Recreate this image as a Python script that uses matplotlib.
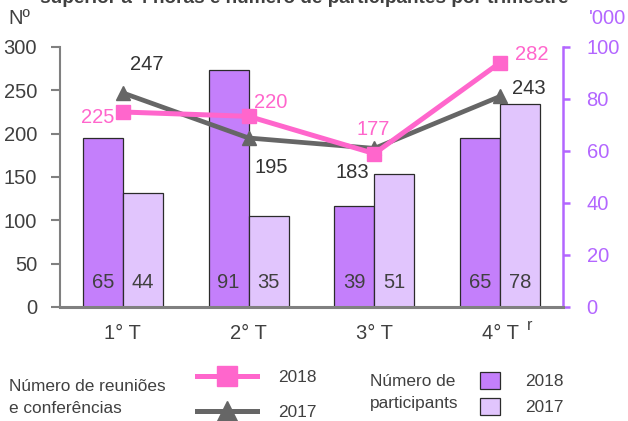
import matplotlib
matplotlib.use("Agg")
import matplotlib.pyplot as plt
import numpy as np
from matplotlib.lines import Line2D
from matplotlib.patches import Patch

# ---- data ----
categories = ['1° T', '2° T', '3° T', '4° T']
meetings_2018 = [225, 220, 177, 282]
meetings_2017 = [247, 195, 183, 243]
participants_2018 = [65, 91, 39, 65]
participants_2017 = [44, 35, 51, 78]
left_ticks = [0, 50, 100, 150, 200, 250, 300]
right_ticks = [0, 20, 40, 60, 80, 100]

# ---- style ----
FONT = ['Liberation Sans Narrow', 'Liberation Sans', 'DejaVu Sans']
plt.rcParams['font.family'] = FONT
DARK = '#404040'
PINK = '#FF66CC'
GREY = '#666666'
PURPLE = '#B366FF'
BAR18 = '#C47FFB'
BAR17 = '#E1C5FD'
AXGREY = '#808080'
FS = 14.5
LFS = 12.4

W, H = 628, 421
fig = plt.figure(figsize=(W / 100, H / 100), dpi=100)
ax = fig.add_axes([60 / W, 1 - 307 / H, (563 - 60) / W, (307 - 47) / H])  # bars, right scale
ax2 = ax.twinx()  # lines, left scale

x = np.arange(len(categories))
bw = 0.318
ax.bar(x - bw / 2, participants_2018, bw, color=BAR18, edgecolor='#2b2b2b', linewidth=0.9, zorder=2)
ax.bar(x + bw / 2, participants_2017, bw, color=BAR17, edgecolor='#2b2b2b', linewidth=0.9, zorder=2)
ax.set_xlim(-0.5, 3.5)
ax.set_ylim(0, 100)
ax.set_yticks(right_ticks)
ax.yaxis.tick_right()
ax.tick_params(axis='y', colors=PURPLE, labelcolor=PURPLE, labelsize=FS, length=5, width=1.8, pad=12)
ax.set_xticks(x)
ax.set_xticklabels(categories)
ax.tick_params(axis='x', length=0, labelsize=FS, labelcolor=DARK, pad=12)

for rect_x, v in zip(x - bw / 2, participants_2018):
    ax.annotate(str(v), xy=(rect_x, 0), xytext=(0, 18), textcoords='offset points',
                ha='center', va='center', fontsize=FS, color=DARK)
for rect_x, v in zip(x + bw / 2, participants_2017):
    ax.annotate(str(v), xy=(rect_x, 0), xytext=(0, 18), textcoords='offset points',
                ha='center', va='center', fontsize=FS, color=DARK)

ax2.plot(x, meetings_2017, color=GREY, lw=3.4, marker='^', markersize=10, zorder=3, solid_capstyle='butt')
ax2.plot(x, meetings_2018, color=PINK, lw=3.6, marker='s', markersize=10, zorder=4, solid_capstyle='butt')
ax2.set_ylim(0, 300)
ax2.set_yticks(left_ticks)
ax2.yaxis.tick_left()
ax2.tick_params(axis='y', colors=AXGREY, labelcolor=DARK, labelsize=FS, length=6.5, width=1.5, pad=10)

off18 = [(-18, -4.3), (15.8, 10.1), (-1.2, 17), (23, 5.5)]
off17 = [(17.3, 20.2), (16.6, -20.9), (-15.6, -17), (20.9, 6)]
for xi, v, o in zip(x, meetings_2018, off18):
    ax2.annotate(str(v), xy=(xi, v), xytext=o, textcoords='offset points',
                 ha='center', va='center', fontsize=FS, color=PINK, zorder=6)
for xi, v, o in zip(x, meetings_2017, off17):
    ax2.annotate(str(v), xy=(xi, v), xytext=o, textcoords='offset points',
                 ha='center', va='center', fontsize=FS, color='#333333', zorder=6)

ax.annotate('r', xy=(3, 0), xycoords=('data', 'axes fraction'), xytext=(21, -13),
            textcoords='offset points', ha='center', va='center', fontsize=11.5, color=DARK)

for a in (ax, ax2):
    a.patch.set_visible(False)
    for s in a.spines.values():
        s.set_visible(False)
ax2.spines['left'].set_visible(True)
ax2.spines['left'].set_color(AXGREY)
ax2.spines['left'].set_linewidth(1.5)
ax.spines['right'].set_visible(True)
ax.spines['right'].set_color(PURPLE)
ax.spines['right'].set_linewidth(1.8)
ax2.spines['bottom'].set_visible(True)
ax2.spines['bottom'].set_color(AXGREY)
ax2.spines['bottom'].set_linewidth(2.2)

# units and title
fig.text(8 / W, 1 - 19 / H, 'Nº', fontsize=FS, color=DARK, ha='left', va='center')
fig.text(608 / W, 1 - 19 / H, "'000", fontsize=FS, color=PURPLE, ha='center', va='center')
fig.text(304 / W, 1 - 3 / H, 'superior a 4 horas e número de participantes por trimestre',
         fontsize=13.7, fontweight='bold', color=DARK, ha='center', va='baseline')

# legends
fig.text(9 / W, 1 - 391 / H, 'Número de reuniões', fontsize=LFS, color=DARK, ha='left', va='baseline')
fig.text(9 / W, 1 - 413 / H, 'e conferências', fontsize=LFS, color=DARK, ha='left', va='baseline')
fig.text(370 / W, 1 - 386 / H, 'Número de', fontsize=LFS, color=DARK, ha='left', va='baseline')
fig.text(370 / W, 1 - 408 / H, 'participants', fontsize=LFS, color=DARK, ha='left', va='baseline')

h18 = Line2D([], [], color=PINK, lw=3.6, marker='s', markersize=14)
h17 = Line2D([], [], color=GREY, lw=3.6, marker='^', markersize=14)
fig.legend([h18, h17], ['2018', '2017'], loc='upper left', bbox_to_anchor=(197 / W, 1 - 370 / H),
           frameon=False, fontsize=LFS, handlelength=3.5, handletextpad=1.2, labelspacing=1.15,
           borderpad=0, borderaxespad=0, labelcolor=DARK)
p18 = Patch(facecolor=BAR18, edgecolor='#2b2b2b', linewidth=0.9)
p17 = Patch(facecolor=BAR17, edgecolor='#2b2b2b', linewidth=0.9)
fig.legend([p18, p17], ['2018', '2017'], loc='upper left', bbox_to_anchor=(480 / W, 1 - 372 / H),
           frameon=False, fontsize=LFS, handlelength=1.15, handleheight=1.15, handletextpad=1.45,
           labelspacing=0.5, borderpad=0, borderaxespad=0, labelcolor=DARK)

fig.savefig('out.png', dpi=100)
